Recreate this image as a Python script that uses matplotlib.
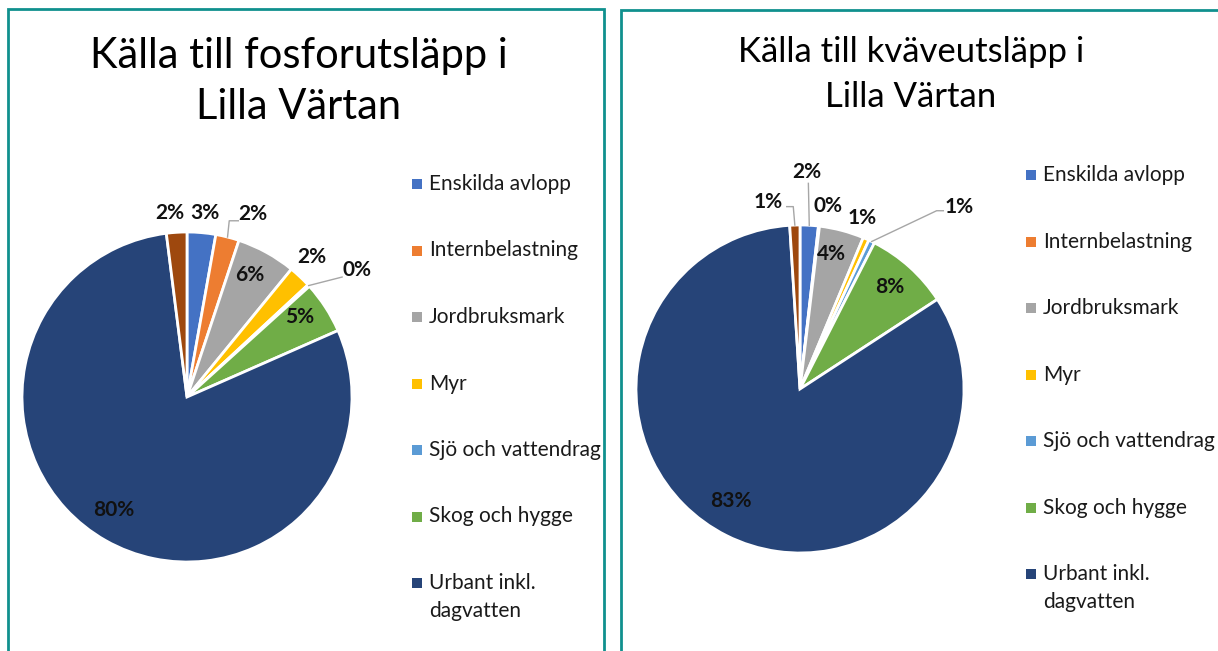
import numpy as np
import matplotlib.pyplot as plt
from matplotlib.patches import Rectangle

plt.rcParams['font.family'] = ['Lato', 'DejaVu Sans']

W, H = 1218, 651

# legend entries (the eighth, brown slice has no visible legend entry)
categories = ['Enskilda avlopp', 'Internbelastning', 'Jordbruksmark', 'Myr',
              'Sjö och vattendrag', 'Skog och hygge', 'Urbant inkl.\ndagvatten']
colors = ['#4472C4', '#ED7D31', '#A5A5A5', '#FFC000',
          '#5B9BD5', '#70AD47', '#264478', '#9E480E']

# share of load in percent, same slice order as colors
fosfor = [2.8, 2.3, 5.8, 2.2, 0.2, 5.1, 79.6, 2.0]
kvave = [1.8, 0.1, 4.4, 0.6, 0.6, 8.3, 83.2, 1.0]

titles = ['Källa till fosforutsläpp i\nLilla Värtan',
          'Källa till kväveutsläpp i\nLilla Värtan']

# label positions in pie units (radius = 1)
fosfor_lab = [(0.106, 1.118), (0.40, 1.109), (0.382, 0.739), (0.755, 0.848),
              (1.03, 0.77), (0.685, 0.485), (-0.442, -0.682), (-0.103, 1.118)]
kvave_lab = [(0.041, 1.325), (0.171, 1.116), (0.193, 0.823), (0.378, 1.043),
             (0.970, 1.112), (0.547, 0.624), (-0.42, -0.683), (-0.192, 1.143)]
# leader lines: slice index -> points after the wedge edge
fosfor_lead = {1: [(0.256, 1.068), (0.311, 1.068)],
               4: [(0.94, 0.727)]}
kvave_lead = {0: [(0.051, 1.254)],
              4: [(0.833, 1.087), (0.874, 1.087)],
              7: [(-0.041, 1.112), (-0.081, 1.112)]}


def fig_rect(x, y, w, h):
    # pixel box (top-left origin) -> figure fraction
    return [x / W, (H - y - h) / H, w / W, h / H]


def draw_panel(vals, title, labels, leads, cx, cy, R, title_x, title_y, title_size,
               leg_x, leg_y):
    lim = 1.6
    ax = fig.add_axes(fig_rect(cx - lim * R, cy - lim * R, 2 * lim * R, 2 * lim * R))
    wedges, _ = ax.pie(vals, colors=colors, startangle=90, counterclock=False,
                       wedgeprops=dict(edgecolor='white', linewidth=2))
    ax.set_xlim(-lim, lim)
    ax.set_ylim(-lim, lim)
    ax.set_aspect('equal')
    ax.axis('off')

    for i, (v, w) in enumerate(zip(vals, wedges)):
        lx, ly = labels[i]
        ax.text(lx, ly, '%d%%' % round(v), ha='center', va='center',
                fontsize=15, fontweight='bold', color='#111111')
        if i in leads:
            mid = np.deg2rad((w.theta1 + w.theta2) / 2)
            pts = [(np.cos(mid), np.sin(mid))] + leads[i]
            xs, ys = zip(*pts)
            ax.plot(xs, ys, color='#A6A6A6', lw=1, clip_on=False)

    # title, one line at a time
    for k, line in enumerate(title.split('\n')):
        fig.text(title_x / W, 1 - title_y[k] / H, line, ha='center', va='baseline',
                 fontsize=title_size, color='black')

    # legend
    for i, name in enumerate(categories):
        y = leg_y + i * 66.5
        fig.add_artist(Rectangle(fig_rect(leg_x, y - 5, 10, 10)[:2], 10 / W, 10 / H,
                                 transform=fig.transFigure, color=colors[i], lw=0))
        for k, line in enumerate(name.split('\n')):
            fig.text((leg_x + 17) / W, 1 - (y + k * 28) / H, line, ha='left',
                     va='center', fontsize=15, color='#1a1a1a')


fig = plt.figure(figsize=(W / 100, H / 100), dpi=100)

draw_panel(fosfor, titles[0], fosfor_lab, fosfor_lead, 187, 397, 165,
           299, (68, 119), 30, 412, 184)
draw_panel(kvave, titles[1], kvave_lab, kvave_lead, 800, 389, 164,
           911, (62, 107), 25, 1026, 175)

# panel frames
for x0, x1, y0 in [(8, 604, 9), (621, 1240, 9.5)]:
    fig.add_artist(Rectangle(fig_rect(x0, y0, x1 - x0, 700)[:2], (x1 - x0) / W, 700 / H,
                             transform=fig.transFigure, fill=False,
                             edgecolor='#10908E', lw=2))

fig.savefig('out.png', dpi=100)
